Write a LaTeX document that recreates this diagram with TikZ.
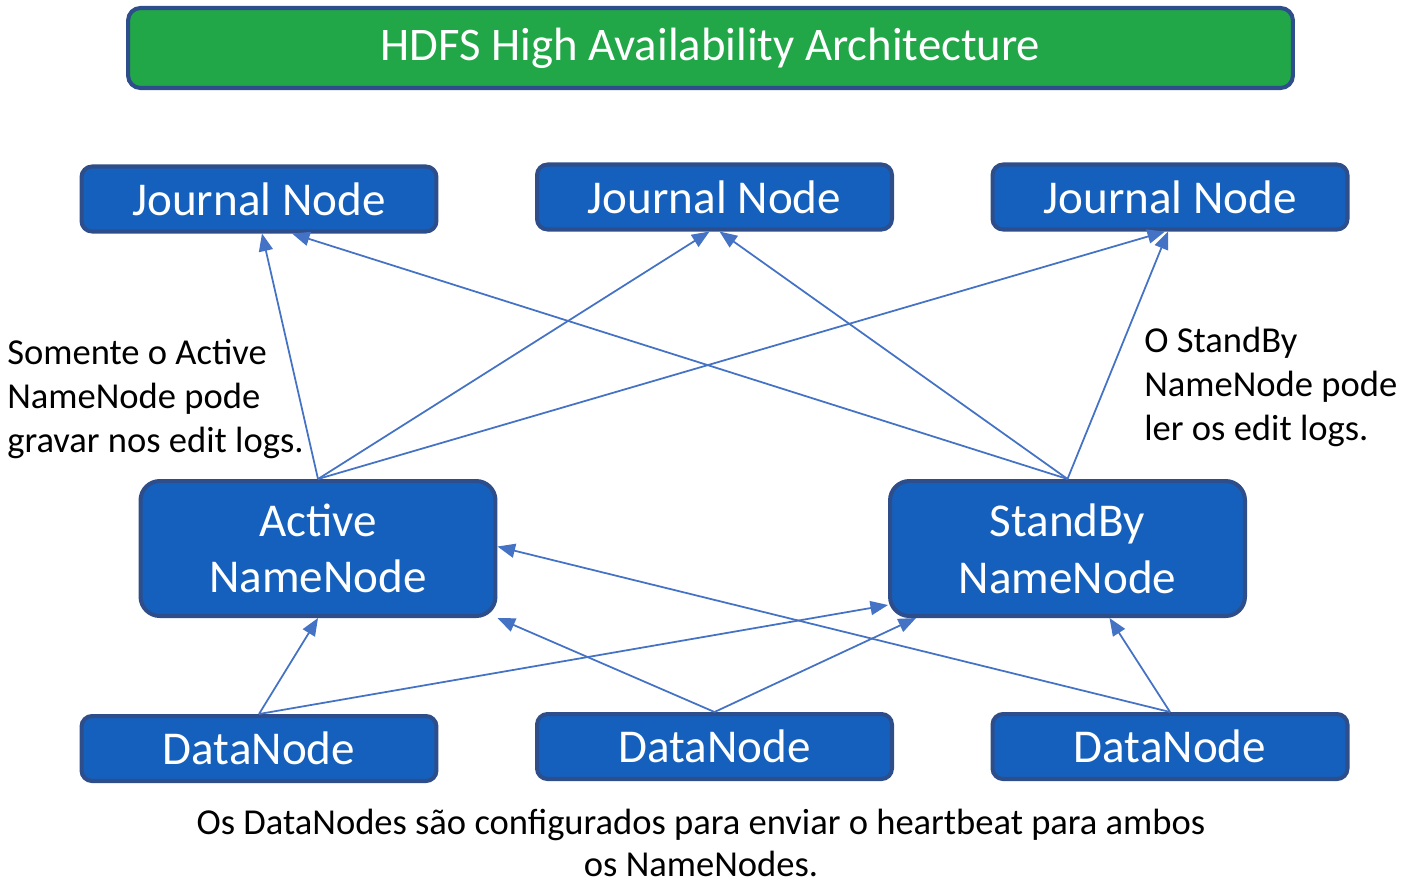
\documentclass[tikz,border=0pt]{standalone}
\usepackage{fontspec}
\setmainfont{Carlito}
\usetikzlibrary{arrows.meta,calc}
\definecolor{boxblue}{RGB}{21,96,189}
\definecolor{edgeblue}{RGB}{45,78,138}
\definecolor{titlegreen}{RGB}{33,167,72}
\definecolor{arrowblue}{RGB}{68,114,196}
\begin{document}
\begin{tikzpicture}[x=0.02cm,y=-0.02cm,
  hbox/.style={draw=edgeblue,line width=2.3pt,fill=boxblue,text=white,rounded corners=6pt,
    minimum width=7.1cm,minimum height=1.3cm,inner sep=0pt,align=center},
  jbox/.style={hbox,font=\fontsize{26.8}{32}\selectfont},
  nnbox/.style={hbox,rounded corners=11pt,minimum height=2.7cm,font=\fontsize{26.8}{32.3}\selectfont},
  note/.style={align=left,inner sep=0pt,font=\fontsize{20.8}{25}\selectfont},
  hb/.style={draw=arrowblue,line width=1pt,-{Triangle[length=10pt,width=8pt]}}]
\useasboundingbox (0,0) rectangle (1415,887);
\node[hbox,fill=titlegreen,rounded corners=7pt,minimum width=23.3cm,minimum height=1.6cm,
  font=\fontsize{26.6}{32}\selectfont] (title) at (710.5,48) {HDFS High Availability Architecture};
\node[jbox] (jn1) at (259,199) {Journal Node};
\node[jbox] (jn2) at (714.5,197) {Journal Node};
\node[jbox] (jn3) at (1170,197) {Journal Node};
\node[nnbox] (act) at (318,548.5) {Active\\NameNode};
\node[nnbox] (sb) at (1067.5,548.5) {StandBy\\NameNode};
\node[jbox] (dn1) at (259,748.5) {DataNode};
\node[jbox] (dn2) at (714.5,746.5) {DataNode};
\node[jbox] (dn3) at (1170,746.5) {DataNode};
\draw[hb] (act.north) -- ($(jn1.south)+(3,0)$);
\draw[hb] (act.north) -- ($(jn2.south)+(-5,0)$);
\draw[hb] (act.north) -- ($(jn3.south)+(-5,0)$);
\draw[hb] (sb.north) -- ($(jn1.south)+(33,0)$);
\draw[hb] (sb.north) -- ($(jn2.south)+(5,0)$);
\draw[hb] (sb.north) -- ($(jn3.south)+(-2,0)$);
\draw[hb] (dn1.north) -- (act.south);
\draw[hb] (dn1.north) -- ($(sb.south west)+(0,-13)$);
\draw[hb] (dn2.north) -- (act.south east);
\draw[hb] (dn2.north) -- ($(sb.south west)+(28,0)$);
\draw[hb] (dn3.north) -- ($(act.east)+(0,-2)$);
\draw[hb] (dn3.north) -- ($(sb.south)+(42,0)$);
\node[note,anchor=north west] (wnote) at (7,339) {Somente o Active\\NameNode pode\\gravar nos edit logs.};
\node[note,anchor=north west] (rnote) at (1144,327) {O StandBy\\NameNode pode\\ler os edit logs.};
\node[note,align=center,anchor=north] (dnote) at (701,809) {Os DataNodes são configurados para enviar o heartbeat para ambos\\[-1pt]os NameNodes.};
\end{tikzpicture}
\end{document}
